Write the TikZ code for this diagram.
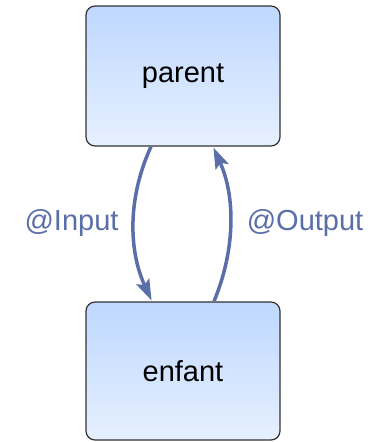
\documentclass[tikz,border=0pt]{standalone}
\usepackage{fontspec}
\setmainfont{Liberation Sans}
\usetikzlibrary{arrows.meta}
\definecolor{arrcol}{HTML}{5A6EA8}
\definecolor{boxtop}{HTML}{BFD8FF}
\definecolor{boxbot}{HTML}{E6F0FF}
\definecolor{boxline}{HTML}{333333}
\begin{document}
\begin{tikzpicture}[x=1pt,y=-1pt,
  box/.style={draw=boxline, line width=1.2pt, rounded corners=9pt,
    top color=boxtop, bottom color=boxbot, minimum width=194pt,
    inner sep=0pt, font=\fontsize{29}{34}\selectfont},
  conn/.style={draw=arrcol, line width=3.5pt,
    -{Stealth[length=21pt,width=14pt,inset=4pt]}, shorten >=1pt},
  lbl/.style={text=arrcol, font=\fontsize{29}{34}\selectfont}]
\useasboundingbox (0,0) rectangle (367,442);
\node[box, minimum height=140pt] (parent) at (183,76) {parent};
\node[box, minimum height=138pt] (enfant) at (183,371) {enfant};
\draw[conn] ([xshift=-32pt]parent.south) .. controls +(-23,50) and +(-24,-52) .. ([xshift=-31pt]enfant.north);
\draw[conn] ([xshift=31pt]enfant.north) .. controls +(21.5,-52) and +(22.5,50) .. ([xshift=30pt]parent.south);
\node[lbl] (lin) at (71.5,223) {@Input};
\node[lbl] (lout) at (305,223) {@Output};
\end{tikzpicture}
\end{document}
